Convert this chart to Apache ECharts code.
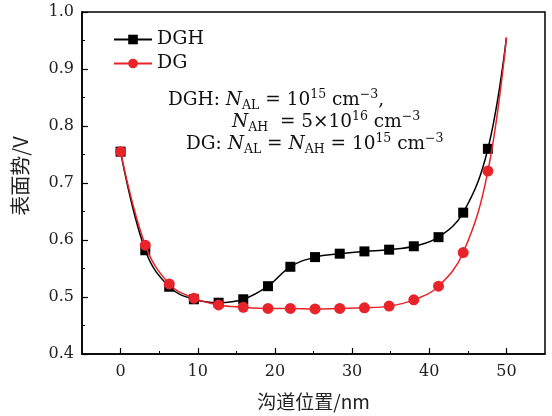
<!DOCTYPE html>
<html>
<head>
<meta charset="utf-8">
<script src="https://cdn.jsdelivr.net/npm/echarts@6/dist/echarts.min.js"></script>
<style>
html,body{margin:0;padding:0;background:#fff;}
#chart_main{width:552px;height:416px;}
</style>
</head>
<body>
<div id="chart_main"></div>
<script type="text/javascript">
// 沟道位置 (nm)
var xs = [0, 3.2, 6.3, 9.5, 12.7, 15.9, 19.1, 22.0, 25.2, 28.4, 31.6, 34.8, 38.0, 41.2, 44.4, 47.6];
// 表面势 (V)
var dghY = [0.755, 0.582, 0.518, 0.496, 0.490, 0.496, 0.519, 0.553, 0.570, 0.576, 0.580, 0.583, 0.589, 0.605, 0.648, 0.760];
var dgY  = [0.755, 0.591, 0.523, 0.498, 0.486, 0.482, 0.480, 0.480, 0.479, 0.480, 0.481, 0.484, 0.495, 0.519, 0.578, 0.721];
// 曲线终点 (无标记)
var endX = 50, endY = 0.955;
var xTicks = [0, 10, 20, 30, 40, 50];
var xMinorTicks = [5, 15, 25, 35, 45];

var serif = 'DejaVu Serif';

function buildData(ys){
	var d = [];
	for(var i=0;i<xs.length;i++){
		d.push([xs[i], ys[i]]);
	}
	d.push({value:[endX, endY], symbol:'none'});
	return d;
}

var richStyle = {
	i:{fontFamily:serif, fontStyle:'italic', fontSize:18.5, lineHeight:24, verticalAlign:'middle', fill:'#111'},
	sub:{fontFamily:serif, fontSize:12.5, verticalAlign:'bottom', fill:'#111'},
	sup:{fontFamily:serif, fontSize:12.5, verticalAlign:'top', fill:'#111'}
};
function note(x, y, txt){
	return {type:'text', left:x, top:y, style:{text:txt, rich:richStyle, fontFamily:serif, fontSize:18.5, lineHeight:24, fill:'#111'}};
}

var myChart = echarts.init(document.getElementById('chart_main'));
var option = {
	backgroundColor:'#fff',
	animation:false,
	grid:{left:82, right:7, top:12, bottom:60, show:true, borderColor:'#000', borderWidth:1.5},
	legend:{
		left:108, top:25, orient:'vertical', itemWidth:38, itemHeight:12, itemGap:5,
		textStyle:{fontFamily:serif, fontSize:19, color:'#111'},
		data:['DGH','DG']
	},
	xAxis:[{
		type:'value', min:-5, max:55,
		name:'沟道位置/nm', nameLocation:'middle', nameGap:38,
		nameTextStyle:{fontFamily:'Noto Sans CJK SC', fontSize:19, color:'#222'},
		axisLine:{lineStyle:{color:'#000', width:1.5}},
		axisTick:{inside:true, length:6, lineStyle:{color:'#000', width:1.2}, customValues:xTicks},
		axisLabel:{customValues:xTicks, fontFamily:serif, fontSize:16, color:'#222', margin:10},
		splitLine:{show:false}
	},{
		type:'value', min:-5, max:55, position:'bottom',
		axisLine:{show:false},
		axisTick:{inside:true, length:3, lineStyle:{color:'#000', width:1}, customValues:xMinorTicks},
		axisLabel:{show:false},
		splitLine:{show:false}
	}],
	yAxis:{
		type:'value', min:0.4, max:1.0, interval:0.1,
		name:'表面势/V', nameLocation:'middle', nameGap:52,
		nameTextStyle:{fontFamily:'Noto Sans CJK SC', fontSize:20, color:'#222', padding:[0,0,0,14]},
		axisLine:{show:true, onZero:false, lineStyle:{color:'#000', width:1.5}},
		axisTick:{inside:true, length:6, lineStyle:{color:'#000', width:1.2}},
		minorTick:{show:true, splitNumber:2, length:3, lineStyle:{color:'#000', width:1}},
		axisLabel:{fontFamily:serif, fontSize:16, color:'#222', margin:8, formatter:function(v){return v.toFixed(1);}},
		splitLine:{show:false}
	},
	graphic:[
		note(168, 88, 'DGH: {i|N}{sub|AL} = 10{sup|15} cm{sup|−3},'),
		note(232, 110, '{i|N}{sub|AH}  = 5×10{sup|16} cm{sup|−3}'),
		note(186, 132, 'DG: {i|N}{sub|AL} = {i|N}{sub|AH} = 10{sup|15} cm{sup|−3}')
	],
	series:[{
		name:'DGH', type:'line', smooth:0.4, data:buildData(dghY),
		symbol:'rect', symbolSize:10,
		itemStyle:{color:'#000'}, lineStyle:{color:'#000', width:1.5}, z:3
	},{
		name:'DG', type:'line', smooth:0.4, data:buildData(dgY),
		symbol:'circle', symbolSize:11,
		itemStyle:{color:'#e8232a'}, lineStyle:{color:'#e8232a', width:1.5}, z:4
	}]
};
myChart.setOption(option);
</script>
</body>
</html>
